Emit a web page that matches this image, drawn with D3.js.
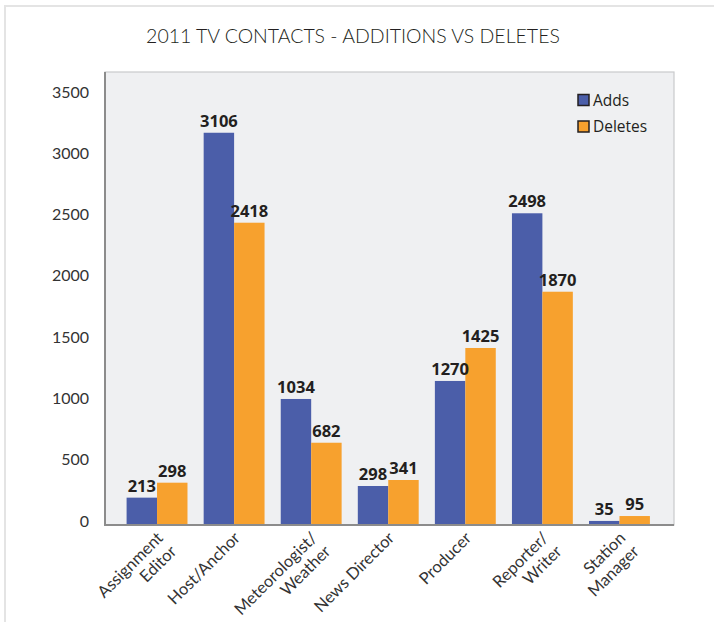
<!DOCTYPE html>
<html>
<head>
<meta charset="utf-8">
<script src="https://cdn.jsdelivr.net/npm/d3@7"></script>
<style>
  html, body { margin: 0; padding: 0; background: #ffffff; }
  svg { display: block; }
</style>
</head>
<body>
<svg id="chart" width="714" height="622"></svg>
<script>
// ---- data ----
const categories = [
  ["Assignment", "Editor"],
  ["Host/Anchor"],
  ["Meteorologist/", "Weather"],
  ["News Director"],
  ["Producer"],
  ["Reporter/", "Writer"],
  ["Station", "Manager"]
];
const seriesNames = ["Adds", "Deletes"];
// printed value labels
const addsLabels = [213, 3106, 1034, 298, 1270, 2498, 35];
const deletesLabels = [298, 2418, 682, 341, 1425, 1870, 95];
// bar heights as drawn in the picture
const addsBars = [215, 3192, 1020, 310, 1167, 2535, 25];
const deletesBars = [337, 2458, 663, 359, 1436, 1895, 65];
const yTicks = [0, 500, 1000, 1500, 2000, 2500, 3000, 3500];
const title = "2011 TV CONTACTS - ADDITIONS VS DELETES";

// ---- layout ----
const colors = ["#4b5ea9", "#f7a12e"];
const svg = d3.select("#chart");
const plot = { left: 105, right: 674, top: 72, bottom: 525 };

// outer frame
svg.append("rect").attr("x", 5).attr("y", 6).attr("width", 720).attr("height", 640)
  .attr("fill", "#ffffff").attr("stroke", "#e4e4e4").attr("stroke-width", 2);

// title
svg.append("text").attr("x", 353).attr("y", 42.5).attr("text-anchor", "middle")
  .attr("font-family", "Lato, sans-serif").attr("font-weight", 300).attr("font-size", 19.5)
  .attr("fill", "#231f20").text(title);

// plot background
svg.append("rect").attr("x", plot.left).attr("y", plot.top)
  .attr("width", plot.right - plot.left).attr("height", plot.bottom - plot.top)
  .attr("fill", "#eff0f2").attr("stroke", "#c9cacc").attr("stroke-width", 1.2);

const x = d3.scaleBand().domain(d3.range(categories.length))
  .range([118.5, 658]).paddingInner(0.21).paddingOuter(0.105);
const sub = d3.scaleBand().domain(seriesNames).range([0, x.bandwidth()]);
const y = d3.scaleLinear().domain([0, 3500]).range([524, 95]);

// y axis labels
const yAxis = d3.axisLeft(y).tickValues(yTicks).tickFormat(d3.format("d"))
  .tickSize(0).tickPadding(0);
const gy = svg.append("g").attr("transform", "translate(89,-3)").call(yAxis);
gy.select(".domain").remove();
gy.selectAll("text").attr("font-family", "Lato, sans-serif").attr("font-size", 16)
  .attr("fill", "#333333");

// bars
const rows = categories.map((c, i) => ({
  i,
  vals: [
    { s: "Adds", v: addsBars[i], lab: addsLabels[i] },
    { s: "Deletes", v: deletesBars[i], lab: deletesLabels[i] }
  ]
}));
const groups = svg.append("g").selectAll("g").data(rows).join("g")
  .attr("transform", d => `translate(${x(d.i)},0)`);
groups.selectAll("rect").data(d => d.vals).join("rect")
  .attr("x", d => sub(d.s)).attr("width", sub.bandwidth())
  .attr("y", d => y(d.v)).attr("height", d => y(0) - y(d.v))
  .attr("fill", (d, j) => colors[j]);
groups.selectAll("text").data(d => d.vals).join("text")
  .attr("x", d => sub(d.s) + sub.bandwidth() / 2).attr("y", d => y(d.v) - 6)
  .attr("text-anchor", "middle").attr("font-family", "'Open Sans', sans-serif")
  .attr("font-weight", 700).attr("font-size", 16.5).attr("fill", "#231f20")
  .text(d => d.lab);

// axis lines (left, bottom)
svg.append("line").attr("x1", plot.left).attr("x2", plot.left)
  .attr("y1", plot.top).attr("y2", plot.bottom + 1)
  .attr("stroke", "#8c8c8c").attr("stroke-width", 2);
svg.append("line").attr("x1", plot.left).attr("x2", plot.right)
  .attr("y1", plot.bottom).attr("y2", plot.bottom)
  .attr("stroke", "#8c8c8c").attr("stroke-width", 2);

// category labels
const cat = svg.append("g").selectAll("text").data(categories).join("text")
  .attr("transform", (d, i) => `translate(${x(i) + x.bandwidth() / 2 + 7},539) rotate(-45)`)
  .attr("text-anchor", "end").attr("font-family", "Lato, sans-serif")
  .attr("font-size", 16.5).attr("fill", "#333333");
cat.selectAll("tspan").data(d => d).join("tspan")
  .attr("x", 0).attr("dy", (d, j) => j === 0 ? 0 : 19).text(d => d);

// legend
const leg = svg.append("g").selectAll("g").data(seriesNames).join("g")
  .attr("transform", (d, i) => `translate(578,${94.5 + i * 26.5})`);
leg.append("rect").attr("width", 11).attr("height", 11)
  .attr("fill", (d, i) => colors[i]).attr("stroke", "#231f20").attr("stroke-width", 1.5);
leg.append("text").attr("x", 15).attr("y", 11).attr("font-family", "'Open Sans', sans-serif")
  .attr("font-size", 15.5).attr("font-weight", 500).attr("fill", "#231f20").text(d => d);
</script>
</body>
</html>
